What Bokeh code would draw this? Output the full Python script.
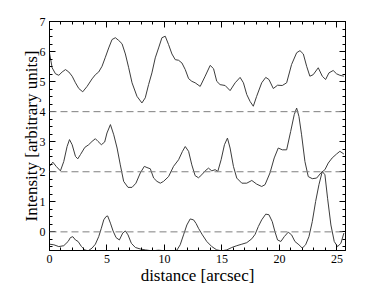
from bokeh.plotting import figure
from bokeh.models import LinearAxis, Span, Range1d, FixedTicker, CustomLabelingPolicy
from bokeh.embed import file_html
from bokeh.resources import INLINE

# distance [arcsec] and intensity for the three profiles
top_x = [0, 0.23, 0.52, 0.81, 1.1, 1.39, 1.68, 1.97, 2.26, 2.55, 2.89, 3.27, 3.7, 3.99, 4.28, 4.57,
         4.86, 5.15, 5.44, 5.73, 6.02, 6.31, 6.6, 6.89, 7.18, 7.61, 8.04, 8.33, 8.62, 8.91, 9.2,
         9.49, 9.78, 10.07, 10.36, 10.65, 10.94, 11.23, 11.52, 11.81, 12.1, 12.38, 12.67, 13.11,
         13.54, 13.98, 14.27, 14.55, 14.84, 15.28, 15.71, 16.15, 16.58, 16.87, 17.16, 17.45, 17.73,
         18.02, 18.46, 18.81, 19.09, 19.47, 19.84, 20.25, 20.63, 21.06, 21.5, 21.79, 22.08, 22.37,
         22.65, 22.94, 23.38, 23.73, 24.02, 24.31, 24.68, 24.97, 25.26, 25.61]
top_y = [5.96, 5.46, 5.26, 5.21, 5.32, 5.4, 5.32, 5.18, 4.96, 4.77, 4.66, 4.84, 5.09, 5.23, 5.32, 5.51,
         5.81, 6.12, 6.4, 6.46, 6.37, 6.26, 5.92, 5.46, 4.96, 4.51, 4.29, 4.46, 4.9, 5.29, 5.79,
         6.12, 6.46, 6.51, 6.23, 5.92, 5.73, 5.71, 5.62, 5.4, 5.1, 5.01, 4.96, 4.84,
         5.18, 5.54, 5.43, 5.01, 4.9, 4.87, 4.7, 4.96, 5.14, 4.96, 4.57, 4.34, 4.18,
         4.51, 4.96, 5.14, 5.07, 4.77, 4.88, 4.87, 4.96, 5.57, 5.96, 6.03, 5.92, 5.51,
         5.18, 5.23, 5.46, 5.18, 5.07, 5.29, 5.37, 5.26, 5.21, 5.18]

mid_x = [0, 0.29, 0.58, 0.95, 1.24, 1.53, 1.74, 1.97, 2.26, 2.46, 2.69, 3.07, 3.41, 3.7, 3.99, 4.22,
         4.51, 4.8, 5.0, 5.3, 5.59, 5.88, 6.16, 6.45, 6.83, 7.18, 7.52, 7.9, 8.25, 8.48, 8.77, 9.06,
         9.35, 9.64, 9.92, 10.36, 10.79, 11.23, 11.57, 11.81, 12.1, 12.38, 12.67, 12.96, 13.25,
         13.54, 13.83, 14.12, 14.41, 14.64, 14.93, 15.22, 15.48, 15.71, 16.0, 16.29, 16.73, 17.16,
         17.6, 18.02, 18.46, 18.75, 19.18, 19.55, 19.9, 20.25, 20.63, 20.98, 21.29, 21.5, 21.7,
         21.93, 22.22, 22.51, 22.86, 23.24, 23.61, 23.96, 24.25, 24.59, 24.97, 25.26, 25.61]
mid_y = [2.18, 2.32, 2.18, 2.03, 2.34, 2.84, 3.07, 2.9, 2.51, 2.43, 2.57, 2.81, 2.9, 3.01, 3.1, 3.01,
         2.9, 2.99, 3.29, 3.57, 3.23, 2.79, 2.23, 1.68, 1.48, 1.48, 1.62, 1.96, 2.18, 2.14, 2.1, 1.79,
         1.68, 1.62, 1.68, 1.84, 2.18, 2.4, 2.68, 2.84, 2.68, 2.23, 1.87, 1.8, 1.9,
         2.03, 2.12, 2.03, 2.07, 2.01, 2.4, 2.9, 3.12, 2.79, 2.18, 1.79, 1.62, 1.62,
         1.71, 1.59, 1.51, 1.57, 1.96, 2.46, 2.79, 2.73, 2.73, 3.34, 3.9, 4.12, 3.84,
         3.23, 2.34, 1.84, 1.77, 1.79, 1.96, 2.07, 2.29, 2.46, 2.59, 2.68, 2.59]

bot_x = [0, 0.38, 0.81, 1.24, 1.62, 1.82, 2.03, 2.26, 2.49, 2.78, 3.07, 3.36, 3.7, 3.99, 4.28, 4.51,
         4.72, 4.92, 5.06, 5.3, 5.53, 5.79, 6.08, 6.37, 6.6, 6.83, 7.12, 7.47, 7.9, 8.33, 8.91, 9.49,
         10.07, 10.65, 11.08, 11.37, 11.66, 11.95, 12.24, 12.53, 12.75, 12.96, 13.3, 13.68, 14.12,
         14.55, 14.99, 15.42, 15.86, 16.29, 16.73, 17.16, 17.6, 17.89, 18.17, 18.46, 18.81, 19.09,
         19.38, 19.61, 19.84, 20.13, 20.42, 20.77, 21.06, 21.35, 21.7, 21.99, 22.28, 22.57, 22.86,
         23.15, 23.44, 23.73, 23.96, 24.19, 24.48, 24.77, 25.06, 25.35, 25.61]
bot_y = [-0.41, -0.43, -0.49, -0.46, -0.32, -0.19, -0.16, -0.27, -0.32, -0.49, -0.6, -0.63, -0.54, -0.41, -0.16, 0.12,
         0.4, 0.51, 0.53, 0.29, 0.03, -0.19, -0.27, -0.04, 0.03, -0.1, -0.38, -0.52, -0.57, -0.6, -0.63, -0.61,
         -0.63, -0.64, -0.61, -0.43, -0.1, 0.23, 0.43, 0.4, 0.28, 0.12, -0.1, -0.32, -0.49,
         -0.6, -0.63, -0.6, -0.52, -0.46, -0.41, -0.36, -0.23, -0.08, 0.18, 0.4, 0.59, 0.57,
         0.34, 0.01, -0.27, -0.32, -0.16, -0.01, -0.1, -0.32, -0.43, -0.54, -0.43, -0.16, 0.34,
         1.01, 1.57, 2.01, 1.9, 1.12, 0.23, -0.32, -0.49, -0.38, -0.04]

baselines = [0, 2, 4]
x_ticks = [0, 5, 10, 15, 20, 25]
x_minor = list(range(0, 26))
y_ticks = [0, 1, 2, 3, 4, 5, 6, 7]
y_minor = [i * 0.25 for i in range(-2, 29)]

FONT = "Liberation Serif"

p = figure(width=374, height=287, output_backend="svg", toolbar_location=None,
           x_range=Range1d(0, 25.75), y_range=Range1d(-0.62, 7.0),
           min_border_left=49, min_border_right=29, min_border_top=21, min_border_bottom=20)
p.outline_line_color = "black"
p.outline_line_width = 1
p.grid.visible = False
p.background_fill_color = "white"

for b in baselines:
    p.add_layout(Span(location=b, dimension="width", line_color="#7f7f7f",
                      line_width=1, line_dash="7 4"))

for xs, ys in [(top_x, top_y), (mid_x, mid_y), (bot_x, bot_y)]:
    p.line(xs, ys, line_color="#3c3c3c", line_width=1)

no_labels = CustomLabelingPolicy(code="""
for (const i of indices) indices.unset(i)
return indices
""")

def style(ax):
    ax.axis_line_color = "black"
    ax.major_tick_in = 6
    ax.major_tick_out = 0
    ax.minor_tick_in = 3
    ax.minor_tick_out = 0
    ax.major_tick_line_color = "black"
    ax.minor_tick_line_color = "black"
    ax.major_label_text_font = FONT
    ax.major_label_text_font_size = "12px"
    ax.major_label_text_color = "black"
    ax.axis_label_text_font = FONT
    ax.axis_label_text_font_size = "17px"
    ax.axis_label_text_font_style = "normal"
    ax.axis_label_text_color = "black"

p.xaxis.ticker = FixedTicker(ticks=x_ticks, minor_ticks=x_minor)
p.yaxis.ticker = FixedTicker(ticks=y_ticks, minor_ticks=y_minor)
style(p.xaxis[0])
style(p.yaxis[0])
p.xaxis.axis_label = "distance [arcsec]"
p.yaxis.axis_label = "Intensity [arbitrary units]"
p.xaxis.major_label_standoff = 4
p.yaxis.major_label_standoff = 4
p.xaxis.axis_label_standoff = 0
p.yaxis.axis_label_standoff = -4

top_ax = LinearAxis(ticker=FixedTicker(ticks=x_ticks, minor_ticks=x_minor),
                    major_label_policy=no_labels)
style(top_ax)
right_ax = LinearAxis(ticker=FixedTicker(ticks=y_ticks, minor_ticks=y_minor),
                      major_label_policy=no_labels)
style(right_ax)
p.add_layout(top_ax, "above")
p.add_layout(right_ax, "right")

open("out.html", "w").write(file_html(p, INLINE))
